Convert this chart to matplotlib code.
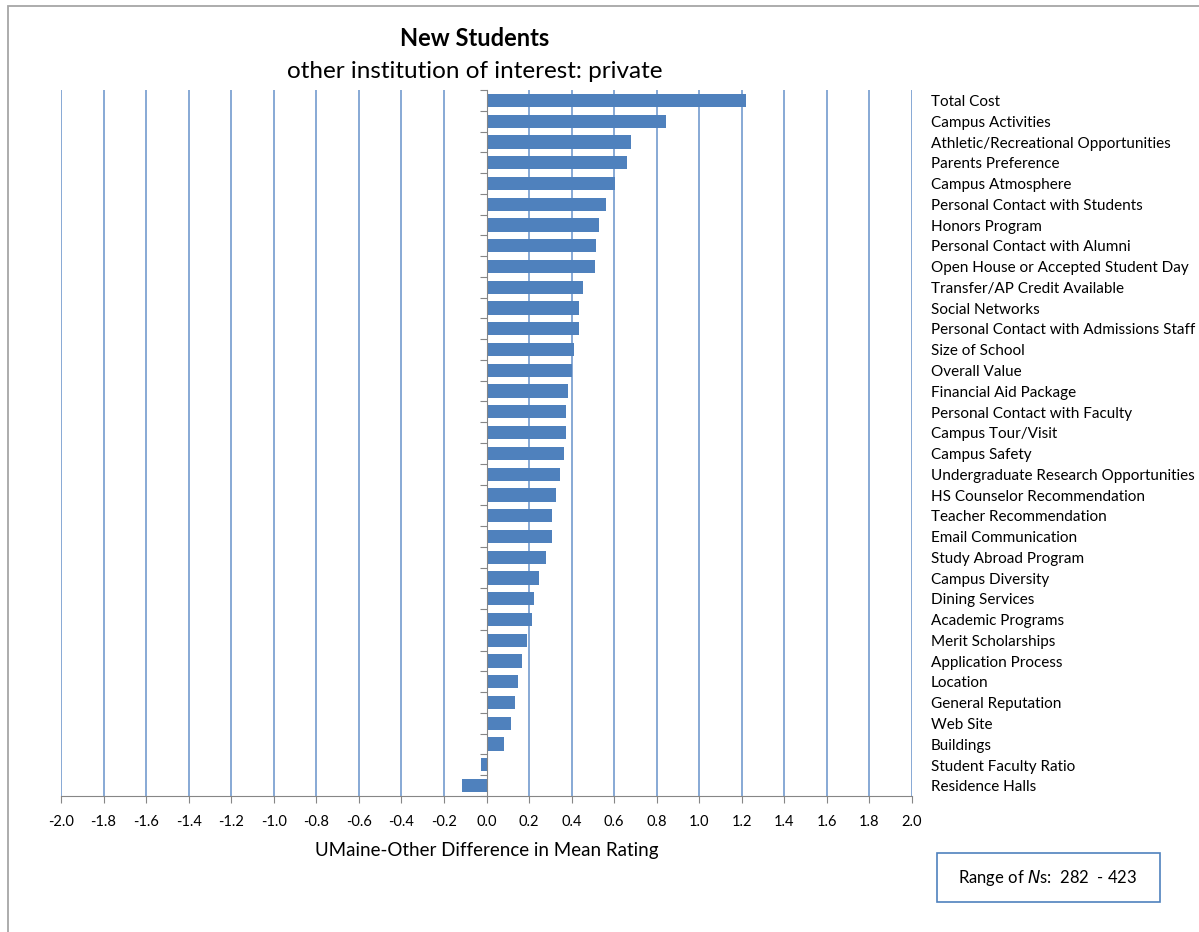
import matplotlib.pyplot as plt
from matplotlib.patches import Rectangle
from matplotlib import transforms

plt.rcParams['font.family'] = ['Lato', 'DejaVu Sans']

categories = [
    "Total Cost", "Campus Activities", "Athletic/Recreational Opportunities",
    "Parents Preference", "Campus Atmosphere", "Personal Contact with Students",
    "Honors Program", "Personal Contact with Alumni",
    "Open House or Accepted Student Day", "Transfer/AP Credit Available",
    "Social Networks", "Personal Contact with Admissions Staff",
    "Size of School", "Overall Value", "Financial Aid Package",
    "Personal Contact with Faculty", "Campus Tour/Visit", "Campus Safety",
    "Undergraduate Research Opportunities", "HS Counselor Recommendation",
    "Teacher Recommendation", "Email Communication", "Study Abroad Program",
    "Campus Diversity", "Dining Services", "Academic Programs",
    "Merit Scholarships", "Application Process", "Location",
    "General Reputation", "Web Site", "Buildings",
    "Student Faculty Ratio", "Residence Halls",
]
differences = [
    1.22, 0.845, 0.68, 0.66, 0.606, 0.561, 0.528, 0.514, 0.508, 0.454,
    0.436, 0.436, 0.409, 0.401, 0.382, 0.376, 0.376, 0.366, 0.345, 0.327,
    0.306, 0.306, 0.281, 0.247, 0.222, 0.216, 0.189, 0.169, 0.150, 0.136,
    0.116, 0.083, -0.027, -0.113,
]
xticks = [round(-2.0 + 0.2 * i, 1) for i in range(21)]

W, H = 1199, 932
fig = plt.figure(figsize=(W / 100, H / 100), dpi=100)
ax = fig.add_axes([61 / W, 1 - 796 / H, (912 - 61) / W, (796 - 90) / H])

pos = list(range(len(categories)))
ax.barh(pos, differences, height=0.64, color="#4F81BD", zorder=3)

ax.set_xlim(-2.0, 2.0)
ax.set_ylim(len(categories) - 0.5, -0.5)

# vertical gridlines, none at zero (the category axis sits there)
for x in xticks:
    if x != 0:
        ax.axvline(x, color="#7EA3D2", linewidth=1.3, zorder=1)

ax.set_xticks(xticks)
ax.set_xticklabels([f"{x:.1f}" for x in xticks], fontsize=10.5)
ax.tick_params(axis="x", direction="out", length=5, color="#868686", pad=9)

# category axis at x=0 with ticks at the band boundaries
ax.spines["left"].set_position(("data", 0))
ax.spines["left"].set_color("#868686")
ax.spines["left"].set_zorder(4)
ax.spines["bottom"].set_color("#868686")
ax.spines["top"].set_visible(False)
ax.spines["right"].set_visible(False)
ax.set_yticks([p - 0.5 for p in pos] + [len(pos) - 0.5])
ax.set_yticklabels([])
ax.tick_params(axis="y", direction="out", length=5, color="#868686")

trans = transforms.blended_transform_factory(ax.transAxes, ax.transData)
for p, name in zip(pos, categories):
    ax.text((931 - 61) / (912 - 61), p + 0.08, name, transform=trans,
            ha="left", va="center", fontsize=11)

ax.set_xlabel("UMaine-Other Difference in Mean Rating", fontsize=13.5, labelpad=9)

fig.text(475 / W, 1 - 38 / H, "New Students", ha="center", va="center",
         fontsize=17, fontweight="bold")
fig.text(475 / W, 1 - 71 / H, "other institution of interest: private",
         ha="center", va="center", fontsize=17.5)

# N range box
fig.patches.append(Rectangle((937 / W, 1 - 902 / H), 223 / W, 49 / H,
                             transform=fig.transFigure, fill=False,
                             edgecolor="#4F81BD", linewidth=1.2))
fig.text(1048 / W, 1 - 878 / H, "Range of $\\mathit{N}$s:  282  - 423",
         ha="center", va="center", fontsize=12)

# chart area border
fig.patches.append(Rectangle((8 / W, -0.01), 1.2, 1 - 6 / H + 0.01,
                             transform=fig.transFigure, fill=False,
                             edgecolor="#A6A6A6", linewidth=1.3))

fig.savefig("out.png", dpi=100)
